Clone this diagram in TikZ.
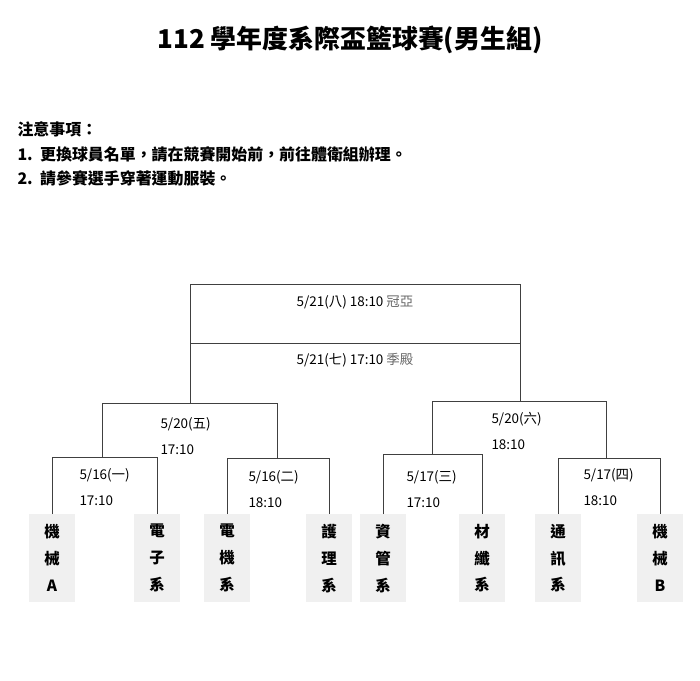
\documentclass[tikz,border=0pt]{standalone}
\usepackage{fontspec}
\setmainfont{Noto Sans CJK TC}
\usetikzlibrary{positioning}
\tikzset{
  team/.style={rectangle, fill=black!6, minimum width=46bp, minimum height=88bp, anchor=north, inner sep=0pt, font=\fontsize{15.5}{27}\selectfont\bfseries, align=center},
  match/.style={font=\fontsize{13.5}{16}\selectfont, anchor=west},
  bline/.style={draw=black!75, line width=0.7pt}
}
\begin{document}
\begin{tikzpicture}[x=1bp, y=-1bp]
\useasboundingbox (0,0) rectangle (700,681);

\node at (350,40) (title) {\fontsize{26}{30}\selectfont\bfseries 112 學年度系際盃籃球賽(男生組)};
\node[anchor=west, font=\fontsize{16}{19}\selectfont\bfseries] at (14,129) (note0) {注意事項：};
\node[anchor=west, font=\fontsize{16}{19}\selectfont\bfseries] at (14,154) (note1) {1.\ \ 更換球員名單，請在競賽開始前，前往體衛組辦理。};
\node[anchor=west, font=\fontsize{16}{19}\selectfont\bfseries] at (14,178) (note2) {2.\ \ 請參賽選手穿著運動服裝。};

% teams
\node[team] at (52,514) (t1) {機\\械\\A};
\node[team] at (157,514) (t2) {電\\子\\系};
\node[team] at (227,514) (t3) {電\\機\\系};
\node[team] at (329,514) (t4) {護\\理\\系};
\node[team] at (383,514) (t5) {資\\管\\系};
\node[team] at (482,514) (t6) {材\\纖\\系};
\node[team] at (558,514) (t7) {通\\訊\\系};
\node[team] at (660,514) (t8) {機\\械\\B};

% first round
\coordinate (r1) at (52,457);   \coordinate (r2) at (157,457);
\coordinate (r3) at (227,458);  \coordinate (r4) at (329,458);
\coordinate (r5) at (383,454);  \coordinate (r6) at (482,454);
\coordinate (r7) at (558,458);  \coordinate (r8) at (660,458);
\draw[bline] (t1.north) -- (r1) -- (r2) -- (t2.north);
\draw[bline] (t3.north) -- (r3) -- (r4) -- (t4.north);
\draw[bline] (t5.north) -- (r5) -- (r6) -- (t6.north);
\draw[bline] (t7.north) -- (r7) -- (r8) -- (t8.north);

% semifinals
\coordinate (s1) at (102,457); \coordinate (s1t) at (102,403);
\coordinate (s2) at (277,458); \coordinate (s2t) at (277,403);
\coordinate (s3) at (432,454); \coordinate (s3t) at (432,401);
\coordinate (s4) at (606,458); \coordinate (s4t) at (606,401);
\draw[bline] (s1) -- (s1t) -- (s2t) -- (s2);
\draw[bline] (s3) -- (s3t) -- (s4t) -- (s4);

% finals
\coordinate (f1) at (190,403); \coordinate (f2) at (520,401);
\coordinate (fm1) at (190,343); \coordinate (fm2) at (520,343);
\coordinate (ft1) at (190,284); \coordinate (ft2) at (520,284);
\draw[bline] (f1) -- (ft1) -- (ft2) -- (f2);
\draw[bline] (fm1) -- (fm2);

% labels
\node[match] at (76,475) (m1a) {5/16(一)};
\node[match] at (76,501) (m1b) {17:10};
\node[match] at (245,477) (m2a) {5/16(二)};
\node[match] at (245,503) (m2b) {18:10};
\node[match] at (403,477) (m3a) {5/17(三)};
\node[match] at (403,503) (m3b) {17:10};
\node[match] at (580,475) (m4a) {5/17(四)};
\node[match] at (580,501) (m4b) {18:10};
\node[match] at (157,424) (sa) {5/20(五)};
\node[match] at (157,450) (sb) {17:10};
\node[match] at (488,419) (sc) {5/20(六)};
\node[match] at (488,445) (sd) {18:10};
\node[font=\fontsize{13.5}{16}\selectfont] at (355,302) (fin) {5/21(八) 18:10 \textcolor{black!60}{冠亞}};
\node[font=\fontsize{13.5}{16}\selectfont] at (355,360) (third) {5/21(七) 17:10 \textcolor{black!60}{季殿}};
\end{tikzpicture}
\end{document}
